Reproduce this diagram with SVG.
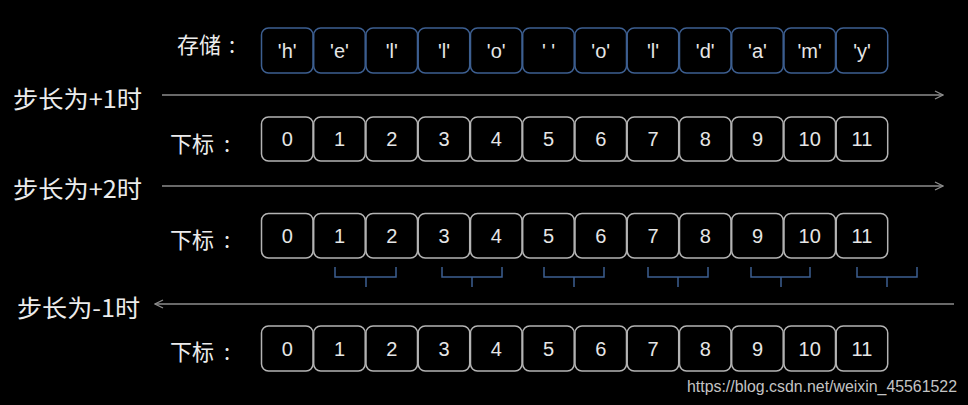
<svg xmlns="http://www.w3.org/2000/svg" width="968" height="405" viewBox="0 0 968 405">
<style>
.bg{fill:#000}
.sb{fill:#000;stroke:#3d5f91;stroke-width:1.5}
.ib{fill:#000;stroke:#b4b4b4;stroke-width:1.5}
.bt{font-family:"Liberation Sans","Noto Sans CJK SC",sans-serif;font-size:20px;fill:#e6e6e6;text-anchor:middle}
.lb{font-family:"Noto Sans CJK SC","Liberation Sans",sans-serif;font-size:24px;fill:#ececec}
.ix{font-family:"Noto Sans CJK SC","Liberation Sans",sans-serif;font-size:22px;fill:#ececec}
.ar{stroke:#8c8c8c;stroke-width:1.5;fill:none}
.br{stroke:#3d5f91;stroke-width:1.5;fill:none}
.wm{font-family:"Liberation Sans",sans-serif;font-size:16px;fill:#c4c4c4}
</style>
<defs>
<marker id="ah" viewBox="0 0 10 10" refX="9" refY="5" markerWidth="10" markerHeight="10" markerUnits="userSpaceOnUse" orient="auto">
<path d="M1,1 L9,5 L1,9" fill="none" stroke="#8c8c8c" stroke-width="1.3"/>
</marker>
</defs>
<rect class="bg" x="0" y="0" width="968" height="405"/>

<g id="row-storage">
<text class="ix" x="177" y="52.5" font-size="21">存储<tspan x="229">:</tspan></text>
<g id="s0"><rect class="sb" x="261.5" y="28" width="51.5" height="45" rx="7"/><text class="bt" x="287.2" y="57.5">'h'</text></g>
<g id="s1"><rect class="sb" x="313.7" y="28" width="51.5" height="45" rx="7"/><text class="bt" x="339.5" y="57.5">'e'</text></g>
<g id="s2"><rect class="sb" x="366" y="28" width="51.5" height="45" rx="7"/><text class="bt" x="391.7" y="57.5">'l'</text></g>
<g id="s3"><rect class="sb" x="418.2" y="28" width="51.5" height="45" rx="7"/><text class="bt" x="444" y="57.5">'l'</text></g>
<g id="s4"><rect class="sb" x="470.5" y="28" width="51.5" height="45" rx="7"/><text class="bt" x="496.2" y="57.5">'o'</text></g>
<g id="s5"><rect class="sb" x="522.7" y="28" width="51.5" height="45" rx="7"/><text class="bt" x="548.5" y="57.5">' '</text></g>
<g id="s6"><rect class="sb" x="575" y="28" width="51.5" height="45" rx="7"/><text class="bt" x="600.7" y="57.5">'o'</text></g>
<g id="s7"><rect class="sb" x="627.2" y="28" width="51.5" height="45" rx="7"/><text class="bt" x="653" y="57.5">'l'</text></g>
<g id="s8"><rect class="sb" x="679.5" y="28" width="51.5" height="45" rx="7"/><text class="bt" x="705.2" y="57.5">'d'</text></g>
<g id="s9"><rect class="sb" x="731.7" y="28" width="51.5" height="45" rx="7"/><text class="bt" x="757.5" y="57.5">'a'</text></g>
<g id="s10"><rect class="sb" x="784" y="28" width="51.5" height="45" rx="7"/><text class="bt" x="809.7" y="57.5">'m'</text></g>
<g id="s11"><rect class="sb" x="836.2" y="28" width="51.5" height="45" rx="7"/><text class="bt" x="862" y="57.5">'y'</text></g>
</g>

<g id="label1"><text class="lb" x="13" y="107.5" textLength="129" lengthAdjust="spacingAndGlyphs">步长为+1时</text></g>
<g id="label2"><text class="lb" x="13" y="197.5" textLength="129" lengthAdjust="spacingAndGlyphs">步长为+2时</text></g>
<g id="label3"><text class="lb" x="17" y="316.5" textLength="123" lengthAdjust="spacingAndGlyphs">步长为-1时</text></g>

<g id="row-idx1">
<text class="ix" x="170" y="151.5">下标<tspan x="224">:</tspan></text>
<g><rect class="ib" x="261.5" y="117" width="51.5" height="44" rx="7"/><text class="bt" x="287.2" y="146">0</text></g>
<g><rect class="ib" x="313.7" y="117" width="51.5" height="44" rx="7"/><text class="bt" x="339.5" y="146">1</text></g>
<g><rect class="ib" x="366" y="117" width="51.5" height="44" rx="7"/><text class="bt" x="391.7" y="146">2</text></g>
<g><rect class="ib" x="418.2" y="117" width="51.5" height="44" rx="7"/><text class="bt" x="444" y="146">3</text></g>
<g><rect class="ib" x="470.5" y="117" width="51.5" height="44" rx="7"/><text class="bt" x="496.2" y="146">4</text></g>
<g><rect class="ib" x="522.7" y="117" width="51.5" height="44" rx="7"/><text class="bt" x="548.5" y="146">5</text></g>
<g><rect class="ib" x="575" y="117" width="51.5" height="44" rx="7"/><text class="bt" x="600.7" y="146">6</text></g>
<g><rect class="ib" x="627.2" y="117" width="51.5" height="44" rx="7"/><text class="bt" x="653" y="146">7</text></g>
<g><rect class="ib" x="679.5" y="117" width="51.5" height="44" rx="7"/><text class="bt" x="705.2" y="146">8</text></g>
<g><rect class="ib" x="731.7" y="117" width="51.5" height="44" rx="7"/><text class="bt" x="757.5" y="146">9</text></g>
<g><rect class="ib" x="784" y="117" width="51.5" height="44" rx="7"/><text class="bt" x="809.7" y="146">10</text></g>
<g><rect class="ib" x="836.2" y="117" width="51.5" height="44" rx="7"/><text class="bt" x="862" y="146">11</text></g>
</g>

<g id="row-idx2">
<text class="ix" x="170" y="247.5">下标<tspan x="224">:</tspan></text>
<g><rect class="ib" x="261.5" y="213.5" width="51.5" height="44.5" rx="7"/><text class="bt" x="287.2" y="242.5">0</text></g>
<g><rect class="ib" x="313.7" y="213.5" width="51.5" height="44.5" rx="7"/><text class="bt" x="339.5" y="242.5">1</text></g>
<g><rect class="ib" x="366" y="213.5" width="51.5" height="44.5" rx="7"/><text class="bt" x="391.7" y="242.5">2</text></g>
<g><rect class="ib" x="418.2" y="213.5" width="51.5" height="44.5" rx="7"/><text class="bt" x="444" y="242.5">3</text></g>
<g><rect class="ib" x="470.5" y="213.5" width="51.5" height="44.5" rx="7"/><text class="bt" x="496.2" y="242.5">4</text></g>
<g><rect class="ib" x="522.7" y="213.5" width="51.5" height="44.5" rx="7"/><text class="bt" x="548.5" y="242.5">5</text></g>
<g><rect class="ib" x="575" y="213.5" width="51.5" height="44.5" rx="7"/><text class="bt" x="600.7" y="242.5">6</text></g>
<g><rect class="ib" x="627.2" y="213.5" width="51.5" height="44.5" rx="7"/><text class="bt" x="653" y="242.5">7</text></g>
<g><rect class="ib" x="679.5" y="213.5" width="51.5" height="44.5" rx="7"/><text class="bt" x="705.2" y="242.5">8</text></g>
<g><rect class="ib" x="731.7" y="213.5" width="51.5" height="44.5" rx="7"/><text class="bt" x="757.5" y="242.5">9</text></g>
<g><rect class="ib" x="784" y="213.5" width="51.5" height="44.5" rx="7"/><text class="bt" x="809.7" y="242.5">10</text></g>
<g><rect class="ib" x="836.2" y="213.5" width="51.5" height="44.5" rx="7"/><text class="bt" x="862" y="242.5">11</text></g>
</g>

<g id="row-idx3">
<text class="ix" x="170" y="360">下标<tspan x="224">:</tspan></text>
<g><rect class="ib" x="261.5" y="326" width="51.5" height="45" rx="7"/><text class="bt" x="287.2" y="355.5">0</text></g>
<g><rect class="ib" x="313.7" y="326" width="51.5" height="45" rx="7"/><text class="bt" x="339.5" y="355.5">1</text></g>
<g><rect class="ib" x="366" y="326" width="51.5" height="45" rx="7"/><text class="bt" x="391.7" y="355.5">2</text></g>
<g><rect class="ib" x="418.2" y="326" width="51.5" height="45" rx="7"/><text class="bt" x="444" y="355.5">3</text></g>
<g><rect class="ib" x="470.5" y="326" width="51.5" height="45" rx="7"/><text class="bt" x="496.2" y="355.5">4</text></g>
<g><rect class="ib" x="522.7" y="326" width="51.5" height="45" rx="7"/><text class="bt" x="548.5" y="355.5">5</text></g>
<g><rect class="ib" x="575" y="326" width="51.5" height="45" rx="7"/><text class="bt" x="600.7" y="355.5">6</text></g>
<g><rect class="ib" x="627.2" y="326" width="51.5" height="45" rx="7"/><text class="bt" x="653" y="355.5">7</text></g>
<g><rect class="ib" x="679.5" y="326" width="51.5" height="45" rx="7"/><text class="bt" x="705.2" y="355.5">8</text></g>
<g><rect class="ib" x="731.7" y="326" width="51.5" height="45" rx="7"/><text class="bt" x="757.5" y="355.5">9</text></g>
<g><rect class="ib" x="784" y="326" width="51.5" height="45" rx="7"/><text class="bt" x="809.7" y="355.5">10</text></g>
<g><rect class="ib" x="836.2" y="326" width="51.5" height="45" rx="7"/><text class="bt" x="862" y="355.5">11</text></g>
</g>

<g id="connectors">
<line class="ar" x1="162" y1="95" x2="943" y2="95" marker-end="url(#ah)"/>
<line class="ar" x1="162" y1="186" x2="943" y2="186" marker-end="url(#ah)"/>
<line class="ar" x1="954" y1="304" x2="155" y2="304" marker-end="url(#ah)"/>
</g>

<g id="brackets">
<path class="br" d="M335,267 V277 H396 V267 M366,277 V287"/>
<path class="br" d="M442,267 V277 H502 V267 M472,277 V287"/>
<path class="br" d="M544,267 V277 H604 V267 M574,277 V287"/>
<path class="br" d="M648,267 V277 H708 V267 M678,277 V287"/>
<path class="br" d="M751,267 V277 H810 V267 M781,277 V287"/>
<path class="br" d="M857,267 V277 H917 V267 M887,277 V287"/>
</g>

<text class="wm" x="687" y="392" textLength="270" lengthAdjust="spacingAndGlyphs">https://blog.csdn.net/weixin_45561522</text>
</svg>
